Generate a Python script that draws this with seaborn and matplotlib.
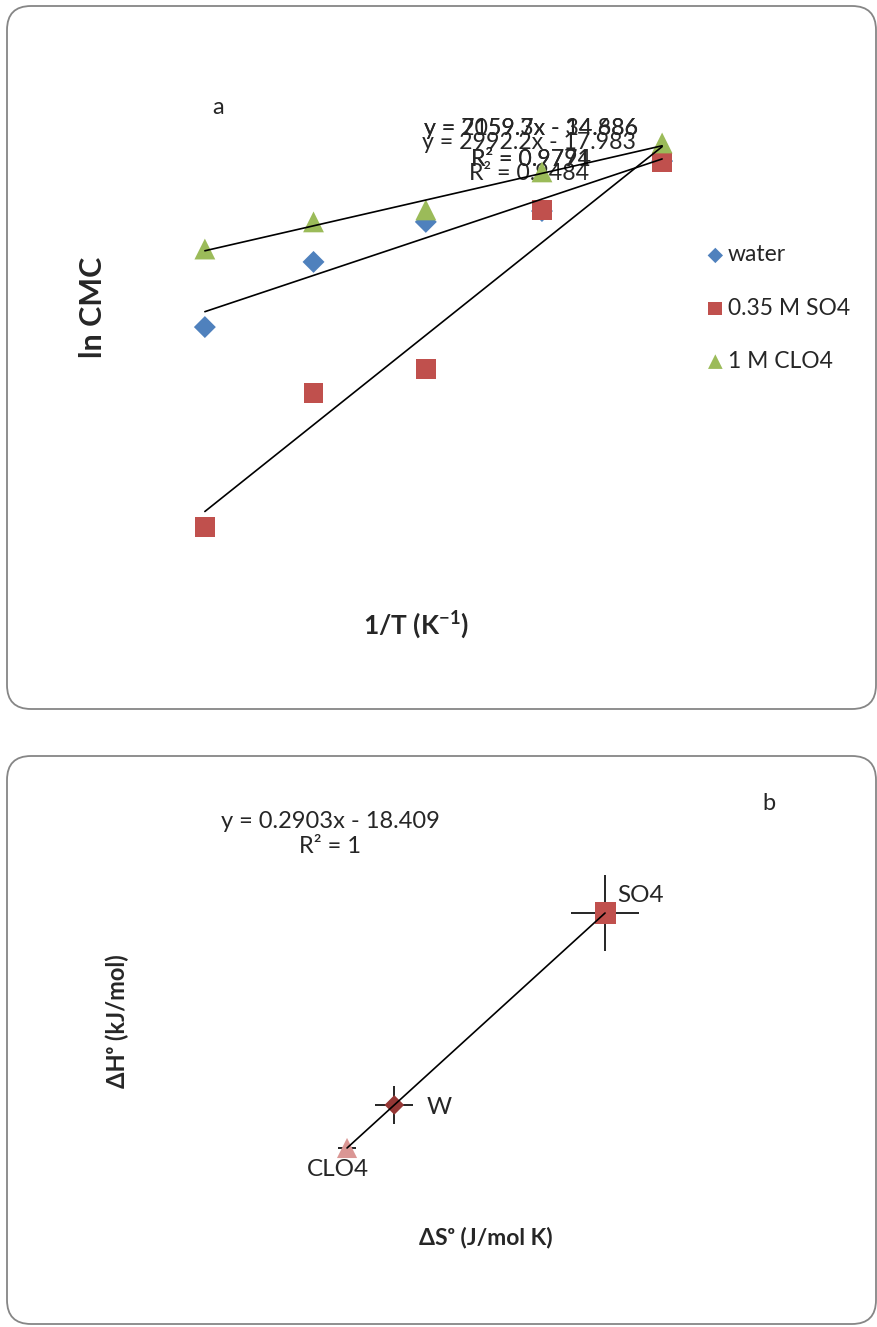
import matplotlib
matplotlib.use("Agg")
import matplotlib.pyplot as plt
import numpy as np
import pandas as pd
import seaborn as sns
from matplotlib.patches import FancyBboxPatch

# ---- panel a: ln CMC against 1/T ----
temps_k = [308, 303, 298, 293, 288]
inv_t = [1.0 / t for t in temps_k]
series_a = ["water", "0.35 M SO4", "1 M CLO4"]
ln_cmc_water = [-8.336, -8.048, -7.871, -7.823, -7.602]
ln_cmc_so4 = [-9.220, -8.627, -8.521, -7.818, -7.606]
ln_cmc_clo4 = [-7.991, -7.871, -7.818, -7.650, -7.522]
fit_text_a = [
    "y = 2059.7x - 14.686\nR² = 0.9794",   # CLO4
    "y = 7159.3x - 34.886\nR² = 0.9771",   # SO4
    "y = 2992.2x - 17.983\nR² = 0.9484",   # water
]

# ---- panel b: enthalpy / entropy compensation ----
labels_b = ["CLO4", "W", "SO4"]
delta_s = [122.3, 149.2, 269.1]      # J/mol K
delta_h = [17.1, 24.9, 59.7]         # kJ/mol
err_s = [5.0, 10.8, 19.3]
err_h = [1.0, 3.4, 6.9]
fit_text_b = "y = 0.2903x - 18.409\nR² = 1"

W, H = 878, 1327

sns.set_style("white")
plt.rcParams["font.family"] = ["Lato", "DejaVu Sans"]
plt.rcParams["mathtext.fontset"] = "custom"
plt.rcParams["mathtext.rm"] = "Lato"
plt.rcParams["mathtext.bf"] = "Lato:bold"


def px_rect(x0, y0, x1, y1):
    return [x0 / W, 1 - y1 / H, (x1 - x0) / W, (y1 - y0) / H]


def blank(ax):
    for s in ax.spines.values():
        s.set_visible(False)
    ax.set_xticks([])
    ax.set_yticks([])
    ax.patch.set_alpha(0)


fig = plt.figure(figsize=(W / 100, H / 100), dpi=100)

bg = fig.add_axes([0, 0, 1, 1], zorder=0)
bg.set_xlim(0, W)
bg.set_ylim(H, 0)
bg.axis("off")
for y0, y1 in [(6, 709), (756, 1324)]:
    bg.add_patch(FancyBboxPatch((7, y0), 869, y1 - y0,
                                boxstyle="round,pad=0,rounding_size=24",
                                fc="white", ec="#868686", lw=1.3))

# panel a
ax_a = fig.add_axes(px_rect(150, 100, 700, 560), zorder=1)
df_a = pd.DataFrame({
    "inv_t": inv_t * 3,
    "ln_cmc": ln_cmc_water + ln_cmc_so4 + ln_cmc_clo4,
    "series": np.repeat(series_a, len(inv_t)),
})
style_a = {
    "water": ("D", "#4F81BD", 125),
    "0.35 M SO4": ("s", "#C0504D", 200),
    "1 M CLO4": ("^", "#9BBB59", 225),
}
for name in series_a:
    mk, col, size = style_a[name]
    sns.scatterplot(data=df_a[df_a.series == name], x="inv_t", y="ln_cmc",
                    marker=mk, color=col, s=size, edgecolor="none",
                    label=name, ax=ax_a, zorder=2)
for name in series_a:
    sns.regplot(data=df_a[df_a.series == name], x="inv_t", y="ln_cmc",
                scatter=False, ci=None, truncate=True, color="black",
                line_kws={"lw": 1.2, "zorder": 3}, ax=ax_a)
ax_a.set_xlim(0.0032197, 0.0034909)
ax_a.set_ylim(-9.366, -7.332)
blank(ax_a)
ax_a.set_xlabel("1/T (K$^{\\mathbf{-1}}$)", fontsize=19, fontweight="bold",
                va="center")
ax_a.xaxis.set_label_coords((416 - 150) / 550, (560 - 625) / 460)
ax_a.set_ylabel("ln CMC", fontsize=22, fontweight="bold", va="center")
ax_a.yaxis.set_label_coords((93 - 150) / 550, (560 - 307) / 460)

handles, labs = ax_a.get_legend_handles_labels()
ax_a.legend(handles, labs, loc="upper left", bbox_to_anchor=(697 / W, 1 - 233 / H),
            bbox_transform=fig.transFigure, frameon=False, fontsize=16.5,
            markerscale=0.7, handlelength=0.6, handletextpad=0.25,
            labelspacing=1.4, borderpad=0)

bg.text(218, 107, "a", fontsize=17, ha="center", va="center")
bg.text(531, 144, fit_text_a[0], fontsize=16.7, ha="center", va="center",
        multialignment="center", linespacing=1.6)
bg.text(531, 144, fit_text_a[1], fontsize=16.7, ha="center", va="center",
        multialignment="center", linespacing=1.6)
bg.text(529, 158, fit_text_a[2], fontsize=16.7, ha="center", va="center",
        multialignment="center", linespacing=1.55)

# panel b
ax_b = fig.add_axes(px_rect(150, 800, 720, 1230), zorder=1)
df_b = pd.DataFrame({"ds": delta_s, "dh": delta_h, "lab": labels_b})
ax_b.errorbar(df_b.ds, df_b.dh, xerr=err_s, yerr=err_h, fmt="none",
              ecolor="black", elinewidth=1.2, capsize=0, zorder=2)
style_b = {"CLO4": ("^", "#DA9694", 210), "W": ("D", "#953735", 100),
           "SO4": ("s", "#C0504D", 230)}
for lab in labels_b:
    mk, col, size = style_b[lab]
    sns.scatterplot(data=df_b[df_b.lab == lab], x="ds", y="dh", marker=mk,
                    color=col, s=size, edgecolor="none", ax=ax_b, zorder=3,
                    legend=False)
sns.regplot(data=df_b, x="ds", y="dh", scatter=False, ci=None, truncate=True,
            color="black", line_kws={"lw": 1.2, "zorder": 4}, ax=ax_b)
ax_b.set_xlim(10.2, 334.5)
ax_b.set_ylim(2.23, 80.19)
blank(ax_b)
ax_b.set_xlabel("ΔSᵒ (J/mol K)", fontsize=16.5, fontweight="bold", va="center")
ax_b.xaxis.set_label_coords((486 - 150) / 570, (1230 - 1237) / 430)
ax_b.set_ylabel("ΔHᵒ (kJ/mol)", fontsize=17, fontweight="bold", va="center")
ax_b.yaxis.set_label_coords((117 - 150) / 570, (1230 - 1021) / 430)

bg.text(769, 803, "b", fontsize=17, ha="center", va="center")
bg.text(330, 834, fit_text_b, fontsize=17, ha="center", va="center",
        multialignment="center", linespacing=1.28)
bg.text(617, 896, "SO4", fontsize=17.5, ha="left", va="center")
bg.text(427, 1107, "W", fontsize=17.5, ha="left", va="center")
bg.text(338, 1170, "CLO4", fontsize=17.5, ha="center", va="center")

fig.savefig("out.png", dpi=100)
